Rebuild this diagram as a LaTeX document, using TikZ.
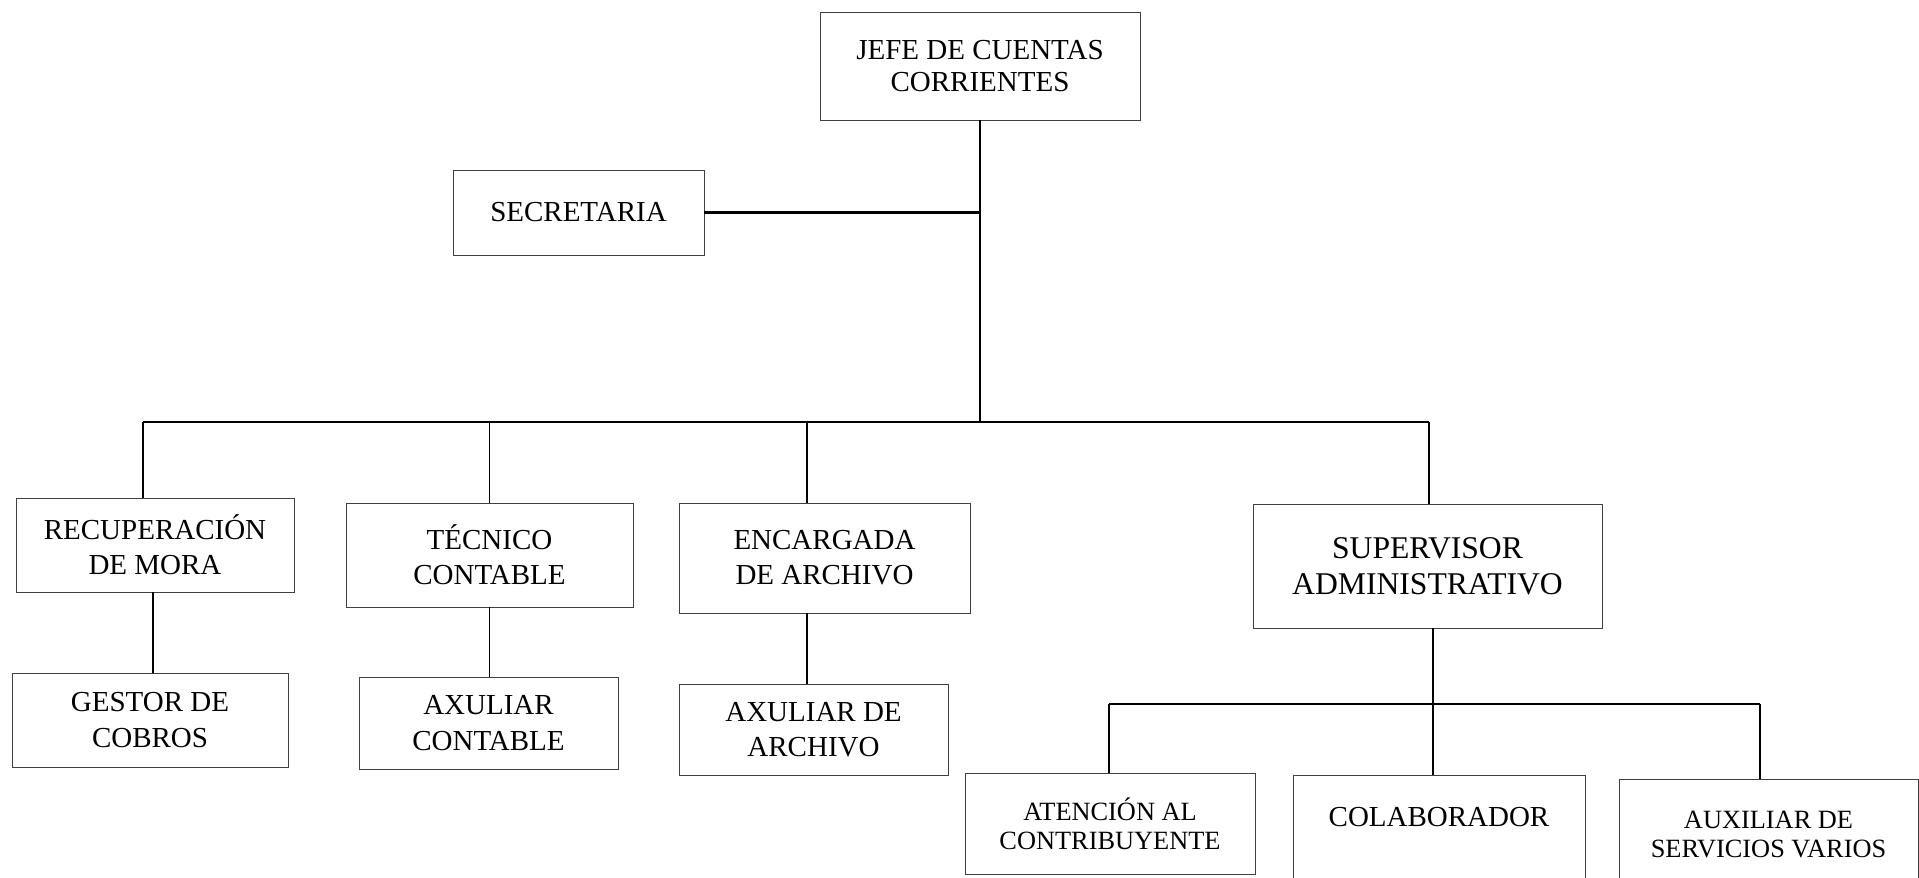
\documentclass[tikz,border=0pt]{standalone}
\usepackage{fontspec}
\setmainfont{Liberation Serif}
\usepackage{tikz}

\tikzset{
	cargo/.style={draw=black!75, line width=0.5pt, align=center, inner sep=4pt,
		font=\fontsize{16.5}{20}\selectfont},
	cargosize/.style 2 args={minimum width=#1*0.02cm, minimum height=#2*0.02cm},
	linea/.style={line width=0.7pt},
	lineagruesa/.style={line width=1.2pt}
}

\begin{document}
\begin{tikzpicture}[x=0.02cm,y=0.02cm]
		\useasboundingbox (0,0) rectangle (1919,877);
		\clip (0,0) rectangle (1919,877);
%		\draw[help lines,step=100] (0,0) grid (1919,877);
		\path (980,455) coordinate (tronco);
		\path (143,455) coordinate (barraizq);
		\path (1429,455) coordinate (barrader);
		\path (807,455) coordinate (ejearch);
		\path (153,332) coordinate (ejerec);
		\path (1433,173) coordinate (subtronco);
		\path (1109,173) coordinate (subizq);
		\path (1760,173) coordinate (subder);

		\node[cargo,cargosize={320}{108},font=\fontsize{16.5}{18}\selectfont] (jefe) at (980,811) {JEFE DE CUENTAS\\CORRIENTES};
		\node[cargo,cargosize={251}{85}] (secre) at (578.5,664.5) {SECRETARIA};
		\node[cargo,cargosize={278}{94}] (recup) at (155,332) {RECUPERACIÓN\\DE MORA};
		\node[cargo,cargosize={287}{104}] (tecnico) at (489.5,322) {TÉCNICO\\CONTABLE};
		\node[cargo,cargosize={291}{110}] (encarg) at (824.5,319) {ENCARGADA\\DE ARCHIVO};
		\node[cargo,cargosize={349}{124},font=\fontsize{18}{20.5}\selectfont] (superv) at (1427.5,311) {SUPERVISOR\\ADMINISTRATIVO};
		\node[cargo,cargosize={276}{94}] (gestor) at (150,157) {GESTOR DE\\COBROS};
		\node[cargo,cargosize={259}{92}] (axcont) at (488.5,154) {AXULIAR\\CONTABLE};
		\node[cargo,cargosize={269}{91}] (axarch) at (813.5,147.5) {AXULIAR DE\\ARCHIVO};
		\node[cargo,cargosize={290}{101},font=\fontsize{15}{16.5}\selectfont] (atenc) at (1110,53.5) {ATENCIÓN AL\\CONTRIBUYENTE};
		\node[cargo,minimum width=292*0.02cm,anchor=north,text height=0.89cm,text depth=2cm] (colab) at (1439,102) {COLABORADOR};
		\node[cargo,cargosize={299}{111},font=\fontsize{15}{16.5}\selectfont] (auxserv) at (1768.5,42.5) {AUXILIAR DE\\SERVICIOS VARIOS};

		\draw[lineagruesa] (jefe.south) -- (tronco);
		\draw[lineagruesa] (secre.east) -- (secre.east -| tronco);
		\draw[lineagruesa] (barraizq) -- (barrader);
		\draw[linea] (barraizq) -- (barraizq |- recup.north);
		\draw[linea] (tecnico.north |- tronco) -- (tecnico.north);
		\draw[linea] (ejearch) -- (ejearch |- encarg.north);
		\draw[linea] (barrader) -- (barrader |- superv.north);
		\draw[linea] (ejerec |- recup.south) -- (ejerec |- gestor.north);
		\draw[linea] (tecnico.south) -- (tecnico.south |- axcont.north);
		\draw[linea] (ejearch |- encarg.south) -- (ejearch |- axarch.north);
		\draw[linea] (subtronco |- superv.south) -- (subtronco |- colab.north);
		\draw[lineagruesa] (subizq) -- (subder);
		\draw[lineagruesa] (subizq) -- (subizq |- atenc.north);
		\draw[linea] (subder) -- (subder |- auxserv.north);
	\end{tikzpicture}
\end{document}
